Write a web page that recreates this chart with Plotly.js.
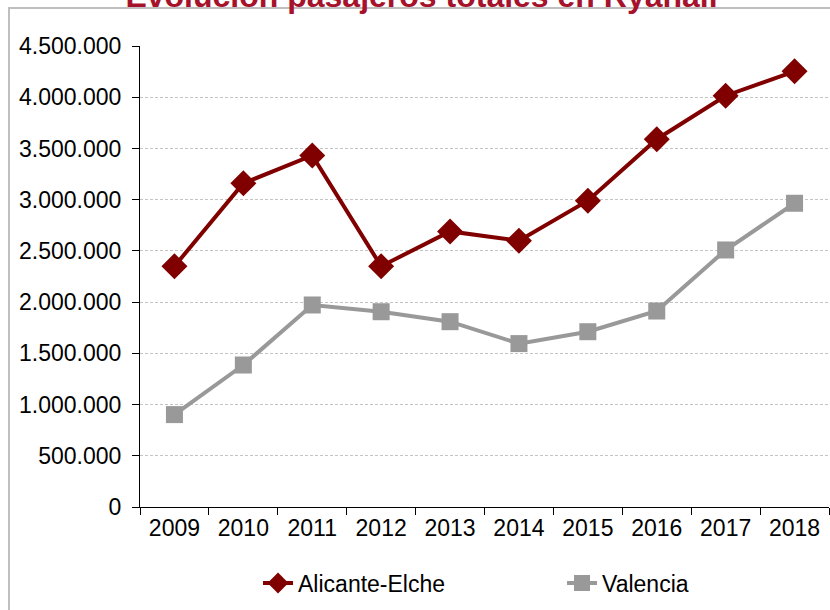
<!DOCTYPE html>
<html>
<head>
<meta charset="utf-8">
<script src="https://cdn.plot.ly/plotly-3.0.1.min.js"></script>
<style>
html,body{margin:0;padding:0;background:#fff;}
#chart{width:830px;height:610px;}
</style>
</head>
<body>
<div id="chart"></div>
<script>
const years = ['2009','2010','2011','2012','2013','2014','2015','2016','2017','2018'];
const alicante = [2350000, 3160000, 3432000, 2350000, 2690000, 2600000, 2990000, 3590000, 4015000, 4253000];
const valencia = [902000, 1386000, 1972000, 1906000, 1809000, 1595000, 1711000, 1913000, 2509000, 2965000];
const yTicks = [0, 500000, 1000000, 1500000, 2000000, 2500000, 3000000, 3500000, 4000000, 4500000];
const chartTitle = 'Evolución pasajeros totales en Ryanair';

const FONT = 'Liberation Sans, Arial, sans-serif';

const traces = [
  {
    x: years, y: alicante, name: 'Alicante-Elche', type: 'scatter', mode: 'lines+markers',
    line: {color: '#800000', width: 4},
    marker: {symbol: 'diamond', size: 20, color: '#800000'},
    legendwidth: 259
  },
  {
    x: years, y: valencia, name: 'Valencia', type: 'scatter', mode: 'lines+markers',
    line: {color: '#999999', width: 4},
    marker: {symbol: 'square', size: 17, color: '#999999'},
    legendwidth: 100
  }
];

const layout = {
  width: 830, height: 610,
  margin: {l: 140, r: 1, t: 46, b: 103},
  paper_bgcolor: '#ffffff', plot_bgcolor: '#ffffff',
  separators: ',.',
  font: {family: FONT, size: 22, color: '#000000'},
  title: {
    text: '<b>' + chartTitle + '</b>',
    font: {family: FONT, size: 32, color: '#A6122B'},
    x: 0.51, xanchor: 'center', xref: 'container',
    y: 1 - 7/610, yanchor: 'bottom', yref: 'container'
  },
  showlegend: true,
  legend: {
    orientation: 'h', x: 0.1713, xanchor: 'left', y: -0.165, yanchor: 'middle',
    font: {family: FONT, size: 23, color: '#000000'},
    bgcolor: 'rgba(0,0,0,0)'
  },
  xaxis: {
    type: 'category', range: [-0.5, 9.5],
    tickson: 'boundaries', ticks: 'outside', ticklen: 7, tickcolor: '#000', tickwidth: 1,
    showline: true, linecolor: '#000', linewidth: 1,
    showgrid: false, zeroline: false,
    tickfont: {family: FONT, size: 23, color: '#000'},
    fixedrange: true
  },
  yaxis: {
    range: [0, 4500000], tickvals: yTicks, tickformat: ',d',
    ticks: 'outside', ticklen: 7, tickcolor: '#000', tickwidth: 1,
    showline: true, linecolor: '#000', linewidth: 1,
    showgrid: true, gridcolor: '#c4c4c4', griddash: '3px,2px', gridwidth: 1,
    zeroline: false,
    tickfont: {family: FONT, size: 23, color: '#000'},
    ticklabelstandoff: 6,
    fixedrange: true
  },
  shapes: [
    {type: 'rect', xref: 'paper', yref: 'paper',
     x0: (9-140)/689, x1: 1.2, y0: -0.5, y1: 1 + (46-8)/461,
     line: {color: '#bfbfbf', width: 2}, fillcolor: 'rgba(0,0,0,0)', layer: 'below'}
  ]
};

Plotly.newPlot('chart', traces, layout, {displayModeBar: false, staticPlot: true});
</script>
</body>
</html>
